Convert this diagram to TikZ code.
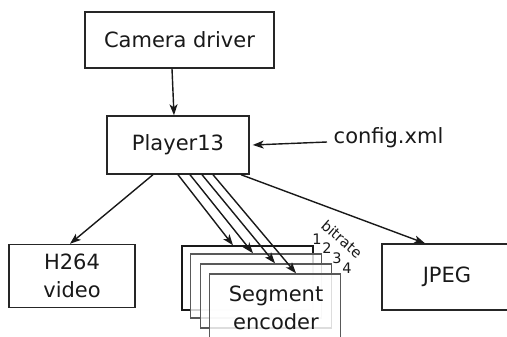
\documentclass[tikz,border=0pt]{standalone}
\usepackage{fontspec}
\setmainfont{DejaVu Sans}
\usetikzlibrary{arrows.meta,calc}
\begin{document}
\begin{tikzpicture}[x=1pt,y=-1pt,
  line width=1.4pt,
  every node/.style={font=\fontsize{21}{28}\selectfont, text=black!90},
  box/.style={draw=black!85, fill=white, inner sep=0pt, align=center},
  encbox/.style={box, minimum width=131pt, minimum height=64pt, fill opacity=0.8, text opacity=1},
  small/.style={font=\fontsize{14.5}{16}\selectfont, inner sep=0pt},
  link/.style={-{Stealth[length=11pt,width=8pt,inset=3pt]}, black!90},
]
\clip (0,0) rectangle (507,337);
\useasboundingbox (0,0) rectangle (507,337);

% top of the chain
\node[box, minimum width=189pt, minimum height=56pt] (cam) at (179.5,40) {Camera driver};
\node[box, minimum width=142pt, minimum height=58pt] (p13) at (178,145) {Player13};
\node[anchor=west, inner sep=0pt] (cfg) at (333,138) {config.xml};

% outputs
\node[box, minimum width=126pt, minimum height=63pt] (h264) at (72,276) {H264\\video};
\node[box, minimum width=130pt, minimum height=66pt] (jpeg) at (447,277) {JPEG};

% stacked segment encoders, one per bitrate
\node[encbox, draw=black!90] (enc1) at (247.5,278) {};
\node[encbox, draw=black!65] (enc2) at (256,286) {};
\node[encbox, draw=black!65] (enc3) at (266,296) {};
\node[encbox, draw=black!65] (enc4) at (275,306) {};
\node[inner sep=0pt, align=center] (enclabel) at (276,308) {Segment\\encoder};

% bitrate numbering
\node[small] (n1) at (317,239) {1};
\node[small] (n2) at (327,248) {2};
\node[small] (n3) at (337,258) {3};
\node[small] (n4) at (347,268) {4};
\node[small, rotate=-41] (br) at (342,239) {bitrate};

% connectors
\draw[link] ([xshift=-7.5pt]cam.south) -- ([xshift=-4pt]p13.north);
\draw[link] ([yshift=-4pt,xshift=-6pt]cfg.west) -- ([xshift=3pt,yshift=0pt]p13.east);
\draw[link] ([xshift=-25pt]p13.south) -- ([xshift=-2pt]h264.north);
\draw[link] ([xshift=63pt]p13.south) -- ([xshift=-22pt]jpeg.north);
\draw[link] ([xshift=0pt]p13.south) -- ([xshift=-14.5pt]enc1.north);
\draw[link] ([xshift=12pt]p13.south) -- ([xshift=-3pt]enc2.north);
\draw[link] ([xshift=24pt]p13.south) -- ([xshift=9pt]enc3.north);
\draw[link] ([xshift=35pt]p13.south) -- ([xshift=21pt]enc4.north);
\end{tikzpicture}
\end{document}
